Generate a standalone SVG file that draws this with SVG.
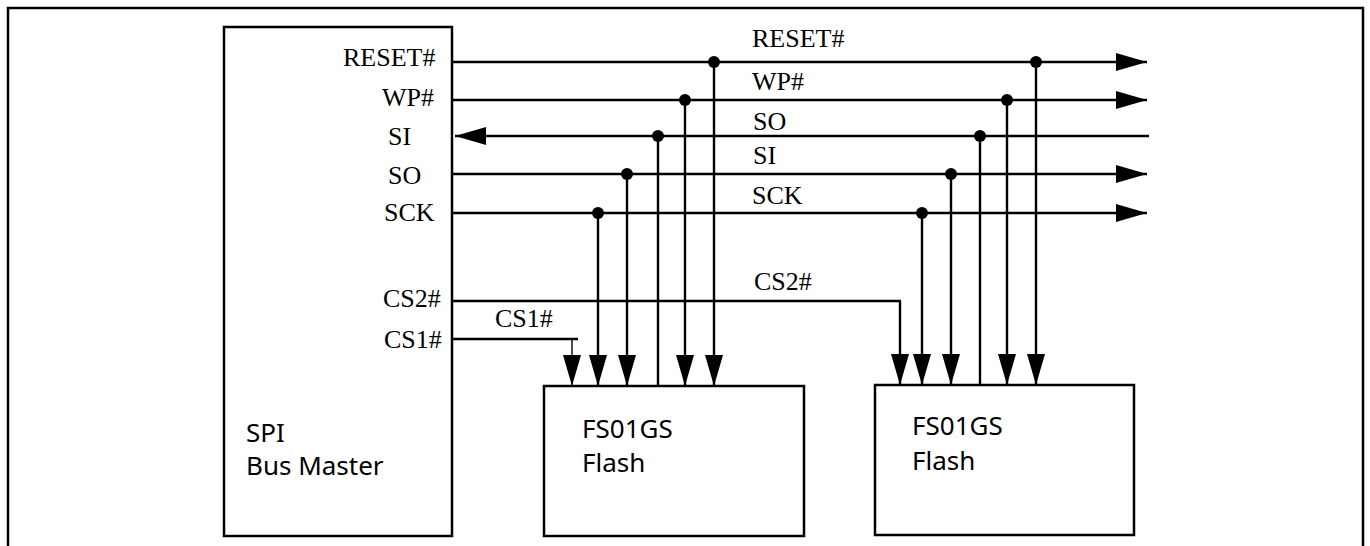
<svg xmlns="http://www.w3.org/2000/svg" width="1370" height="546" viewBox="0 0 1370 546">
<style>
.box{fill:#fff;stroke:#000;stroke-width:2.5}
.w{fill:none;stroke:#000;stroke-width:2.4}
.thin{fill:none;stroke:#000;stroke-width:1.4}
.dot{fill:#000}
.pin{font-family:"Liberation Serif","Times New Roman",serif;font-size:26px;fill:#000}
.lbl{font-family:"Noto Sans","Open Sans",sans-serif;font-size:26px;fill:#000}
</style>
<defs>
<marker id="ah" viewBox="0 0 31 18" refX="31" refY="9" markerWidth="31" markerHeight="18" markerUnits="userSpaceOnUse" orient="auto">
<path d="M0,0 L31,9 L0,18 Z" fill="#000"/>
</marker>
</defs>
<rect width="1370" height="546" fill="#fff"/>
<path d="M8,546 V8 H1363 V546" fill="none" stroke="#000" stroke-width="2.5"/>

<g id="master">
<rect class="box" x="224" y="27" width="228" height="509"/>
<text class="lbl" x="246" y="442">SPI</text>
<text class="lbl" x="246" y="475">Bus Master</text>
<text class="pin" x="343" y="66">RESET#</text>
<text class="pin" x="382" y="106">WP#</text>
<text class="pin" x="388" y="145">SI</text>
<text class="pin" x="388" y="184">SO</text>
<text class="pin" x="384" y="221">SCK</text>
<text class="pin" x="383" y="307">CS2#</text>
<text class="pin" x="384" y="348">CS1#</text>
</g>

<g id="flash1">
<rect class="box" x="544" y="386" width="260" height="150"/>
<text class="lbl" x="582" y="438">FS01GS</text>
<text class="lbl" x="582" y="472">Flash</text>
</g>

<g id="flash2">
<rect class="box" x="875" y="385" width="259" height="150"/>
<text class="lbl" x="912" y="435">FS01GS</text>
<text class="lbl" x="912" y="470">Flash</text>
</g>

<g id="connectors">
<path class="w" d="M453,62 H1147" marker-end="url(#ah)"/>
<path class="w" d="M453,100 H1147" marker-end="url(#ah)"/>
<path class="w" d="M1149,136 H455" marker-end="url(#ah)"/>
<path class="w" d="M453,174 H1147" marker-end="url(#ah)"/>
<path class="w" d="M453,213 H1147" marker-end="url(#ah)"/>
<path class="w" d="M453,301 H901"/>
<path class="w" d="M900,301 V385" marker-end="url(#ah)"/>
<path class="w" d="M453,339 H578"/>
<path class="thin" d="M572,339 V386" marker-end="url(#ah)"/>

<path class="w" d="M598,213 V386" marker-end="url(#ah)"/>
<path class="w" d="M627,174 V386" marker-end="url(#ah)"/>
<path class="w" d="M658,136 V386"/>
<path class="w" d="M685,100 V386" marker-end="url(#ah)"/>
<path class="w" d="M714,62 V386" marker-end="url(#ah)"/>

<path class="w" d="M922,213 V385" marker-end="url(#ah)"/>
<path class="w" d="M951,174 V385" marker-end="url(#ah)"/>
<path class="w" d="M980,136 V385"/>
<path class="w" d="M1007,100 V385" marker-end="url(#ah)"/>
<path class="w" d="M1036,62 V385" marker-end="url(#ah)"/>

<circle class="dot" cx="714" cy="62" r="6"/>
<circle class="dot" cx="1036" cy="62" r="6"/>
<circle class="dot" cx="685" cy="100" r="6"/>
<circle class="dot" cx="1007" cy="100" r="6"/>
<circle class="dot" cx="658" cy="136" r="6"/>
<circle class="dot" cx="980" cy="136" r="6"/>
<circle class="dot" cx="627" cy="174" r="6"/>
<circle class="dot" cx="951" cy="174" r="6"/>
<circle class="dot" cx="598" cy="213" r="6"/>
<circle class="dot" cx="922" cy="213" r="6"/>

<text class="pin" x="752" y="47">RESET#</text>
<text class="pin" x="752" y="90">WP#</text>
<text class="pin" x="753" y="130">SO</text>
<text class="pin" x="753" y="164">SI</text>
<text class="pin" x="752" y="204">SCK</text>
<text class="pin" x="754" y="290">CS2#</text>
<text class="pin" x="495" y="327">CS1#</text>
</g>
</svg>
